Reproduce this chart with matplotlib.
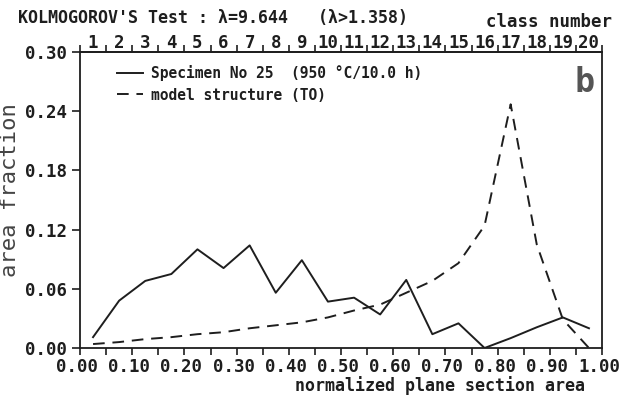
import matplotlib
matplotlib.use("Agg")
import matplotlib.pyplot as plt
import matplotlib.transforms as mtransforms

# ---- data ----
class_numbers = list(range(1, 21))
area_mid = [0.025, 0.075, 0.125, 0.175, 0.225, 0.275, 0.325, 0.375, 0.425, 0.475,
            0.525, 0.575, 0.625, 0.675, 0.725, 0.775, 0.825, 0.875, 0.925, 0.975]
class_edges = [0.05 * i for i in range(21)]
specimen = [0.011, 0.048, 0.068, 0.075, 0.100, 0.081, 0.104, 0.056, 0.089, 0.047,
            0.051, 0.034, 0.069, 0.014, 0.025, 0.000, 0.010, 0.021, 0.031, 0.020]
model = [0.004, 0.006, 0.009, 0.011, 0.014, 0.016, 0.020, 0.023, 0.026, 0.031,
         0.038, 0.044, 0.056, 0.068, 0.086, 0.124, 0.247, 0.105, 0.029, 0.000]
x_ticks = [0.0, 0.1, 0.2, 0.3, 0.4, 0.5, 0.6, 0.7, 0.8, 0.9, 1.0]
x_minor = [0.05, 0.15, 0.25, 0.35, 0.45, 0.55, 0.65, 0.75, 0.85, 0.95]
y_ticks = [0.00, 0.06, 0.12, 0.18, 0.24, 0.30]

FONT = "DejaVu Sans Mono"
INK = "#1e1e1e"
W, H = 621, 404

fig = plt.figure(figsize=(W / 100, H / 100), dpi=100)
ax = fig.add_axes([80 / W, 1 - 348 / H, 522 / W, 296 / H])

ax.plot(area_mid, specimen, color=INK, lw=1.4, label="Specimen No 25  (950 °C/10.0 h)")
ax.plot(area_mid, model, color=INK, lw=1.4, dashes=(6, 4), label="model structure (TO)")

ax.set_xlim(0, 1)
ax.set_ylim(0, 0.30)

for s in ax.spines.values():
    s.set_color(INK)
    s.set_linewidth(1.3)

ax.set_xticks(x_ticks)
ax.set_xticklabels([f"{v:.2f}" for v in x_ticks], fontfamily=FONT, fontweight="bold",
                   fontsize=12.5, color=INK)
ax.set_xticks(x_minor, minor=True)
ax.tick_params(axis="x", which="both", direction="out", length=5, width=1.2,
               colors=INK, pad=2)
shift = mtransforms.ScaledTranslation(-3 / 100, 0, fig.dpi_scale_trans)
for lab in ax.get_xticklabels():
    lab.set_transform(lab.get_transform() + shift)

ax.set_yticks(y_ticks)
ax.set_yticklabels([f"{v:.2f}" for v in y_ticks], fontfamily=FONT, fontweight="bold",
                   fontsize=12.5, color=INK)
ax.tick_params(axis="y", which="both", direction="out", length=6, width=1.2,
               colors=INK, pad=3)

# top class-number axis
top = ax.secondary_xaxis("top")
top.set_xticks(class_edges)
top.set_xticklabels([])
top.tick_params(axis="x", which="major", direction="out", length=5, width=1.2, colors=INK)
top.set_xticks(area_mid, minor=True)
top.set_xticklabels([str(c) for c in class_numbers], minor=True, fontfamily=FONT,
                    fontweight="bold", fontsize=12.5, color=INK)
top.tick_params(axis="x", which="minor", length=0, pad=0)
top.spines["top"].set_linewidth(1.3)
top.spines["top"].set_color(INK)

ax.set_xlabel("normalized plane section area", fontfamily=FONT, fontweight="bold",
              fontsize=12, color=INK)
ax.xaxis.set_label_coords((440 - 80) / 522, -(376 - 348) / 296)

fig.text(10 / W, 1 - 190 / H, "area fraction", rotation=90, ha="center", va="center",
         fontfamily=FONT, fontsize=16, color="#444444")

fig.text(18 / W, 1 - 18 / H, "KOLMOGOROV'S Test : λ=9.644   (λ>1.358)", ha="left",
         va="center", fontfamily=FONT, fontweight="bold", fontsize=12, color=INK)
fig.text(612 / W, 1 - 22 / H, "class number", ha="right", va="center",
         fontfamily=FONT, fontweight="bold", fontsize=12.5, color=INK)

leg = ax.legend(loc="upper left", bbox_to_anchor=((117 - 80) / 522, 1 - (65 - 52) / 296),
                frameon=False, handlelength=1.8, handletextpad=0.5, borderaxespad=0,
                borderpad=0, labelspacing=0.45,
                prop={"family": FONT, "weight": "bold", "size": 10.5})
for t in leg.get_texts():
    t.set_color(INK)

ax.text((585 - 80) / 522, 1 - (82 - 52) / 296, "b", transform=ax.transAxes,
        ha="center", va="center", fontfamily=FONT, fontweight="bold", fontsize=24,
        color="#555555")

fig.savefig("out.png", dpi=100)
